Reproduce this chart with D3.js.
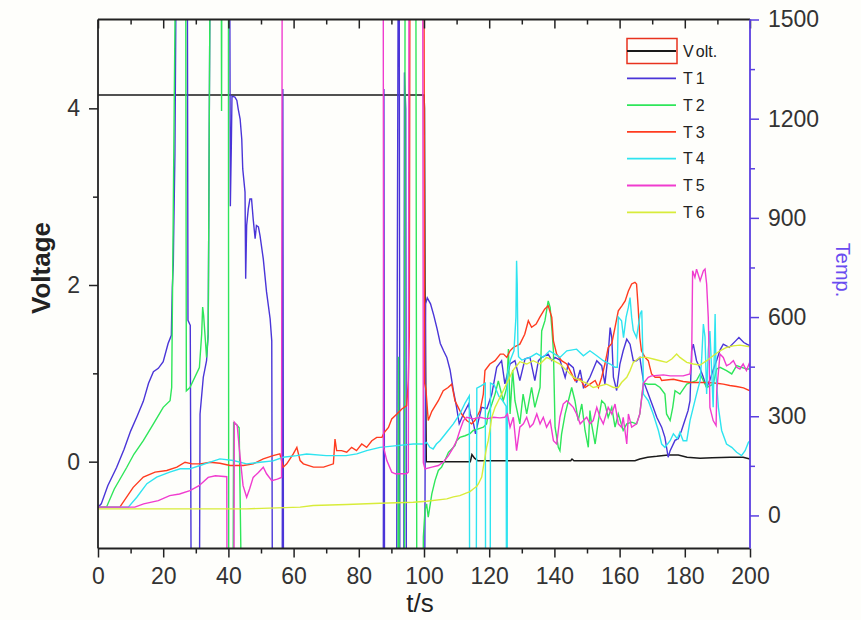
<!DOCTYPE html>
<html>
<head>
<meta charset="utf-8">
<script src="https://cdn.jsdelivr.net/npm/d3@7"></script>
<style>
  body { margin: 0; background: #fefefb; }
  svg { display: block; }
  text { font-family: "Liberation Sans", Arial, sans-serif; }
</style>
</head>
<body>
<svg id="chart" width="861" height="620"></svg>
<script>
// data: [t (s), value]
var volt = [[0,4.15],[100,4.15],[100.15,4.0],[100.3,2.0],[100.7,0],[114.2,0],[114.7,0.08],[115.5,0.04],[116.5,0.01],[145,0.01],[145.4,0.03],[146,0.01],[164.7,0.01],[166.2,0.03],[168.6,0.05],[171.4,0.06],[174.9,0.076],[178,0.076],[180.7,0.05],[184.7,0.04],[188.4,0.045],[193.9,0.05],[197.9,0.05],[200,0.03]];

var t1 = [[0,25],[1,35],[3,90],[5.7,145],[8,200],[10,255],[12,300],[13.9,345],[15.5,400],[17,435],[18.5,445],[20,465],[21.5,520],[22.5,545],[22.6,600],[22.8,690],[23.1,760],[23.2,835],[23.6,1095],[24,1700],[27.4,1700],[27.6,590],[28.3,575],[28.6,-300],[31.1,-300],[31.3,307],[32.3,418],[33.3,468],[33.8,549],[34.4,1700],[40.4,1700],[40.6,935],[40.9,1120],[41.1,1268],[42,1265],[42.6,1255],[43,1230],[43.6,1199],[44.1,1138],[44.4,1048],[45.1,978],[45.3,716],[45.6,877],[46.1,927],[46.6,957],[47.1,957],[47.6,897],[48.2,837],[48.6,877],[49.2,873],[49.7,846],[50.7,776],[51.7,676],[52.8,595],[53.3,528],[53.5,-300],[56.5,-300],[56.7,1290],[56.9,-300],[87.5,-300],[87.7,1290],[87.9,-300],[91.6,-300],[91.8,690],[92.1,1700],[92.4,1700],[92.6,-300],[93.8,-300],[94,1340],[94.4,1230],[94.6,-300],[100.2,-300],[100.5,640],[101,658],[102,640],[103,605],[104,565],[105,520],[106,498],[107,478],[108,440],[109,378],[110,327],[110.8,277],[112.1,307],[113.7,337],[114.2,307],[115.2,277],[115.8,247],[116.7,287],[117.7,327],[119.3,323],[120.8,367],[122.3,448],[123.8,468],[124.8,398],[126.4,458],[127.9,468],[129.4,408],[131,474],[132.5,478],[134,408],[135.1,468],[136.1,478],[138.1,488],[139.2,468],[140.2,478],[141.7,470],[143.3,417],[144.3,460],[145.8,447],[146.8,402],[147.9,440],[148.9,387],[149.9,400],[150.9,418],[153,468],[154.5,453],[155.5,398],[156.5,488],[157.1,568],[157.6,538],[158.1,418],[159.1,378],[160.1,458],[161.1,498],[162.2,533],[163.2,518],[164.2,468],[165.2,468],[166.2,478],[167.3,407],[168.8,367],[170.3,327],[171.4,297],[172.9,267],[173.9,236],[174.9,176],[175.5,196],[177,227],[178,232],[179,257],[180,287],[181,317],[181.6,347],[182.1,498],[182.6,518],[183.6,468],[184.6,447],[185.6,420],[186.7,387],[187.7,410],[188.7,440],[189.8,470],[190.8,500],[191.8,518],[193.6,508],[195.6,528],[196.6,538],[198.1,523],[199,518],[200,513]];

var t2 = [[0,25],[2.6,25],[5,80],[8.8,145],[11,185],[13.9,226],[17,277],[20,327],[22.1,347],[22.6,387],[23.8,1700],[26.9,1700],[27.1,377],[28.2,387],[31.1,447],[31.8,548],[32.1,630],[32.4,605],[33.3,478],[33.8,549],[34.4,1700],[37.8,1700],[37.9,1223],[38,1700],[40,1700],[40.1,-300],[41.4,-300],[41.6,280],[42.5,275],[43.3,265],[44.1,-300],[92,-300],[92.2,480],[92.4,-300],[94,-300],[94.2,1700],[97.5,1700],[97.8,-300],[99.7,-300],[99.8,-65],[100.3,15],[100.8,35],[101.3,-5],[102.4,65],[103.4,106],[104.4,136],[105.4,146],[106.4,166],[107.5,191],[108.5,201],[109.5,211],[110,226],[111,236],[112.6,241],[114.1,247],[115.1,257],[116.7,262],[118.2,267],[119.2,277],[119.7,307],[120.8,337],[121.8,367],[122.8,407],[124.3,347],[125.4,387],[125.9,503],[126.4,307],[127.2,440],[127.9,347],[129.4,277],[130.4,367],[131.5,307],[133,387],[134,327],[135.6,387],[136.1,558],[137.1,589],[138.1,649],[138.7,629],[139.2,568],[139.7,498],[140.2,267],[141.2,206],[141.7,196],[142.2,246],[143.3,307],[144.3,347],[145.3,387],[146.3,347],[147.3,287],[148.4,337],[149.4,257],[150.4,206],[150.9,317],[151.4,277],[152.5,216],[153.5,287],[154.5,347],[155.5,337],[156.5,297],[157.6,327],[158.6,267],[159.6,307],[161.1,257],[162.2,277],[163.7,282],[165.2,277],[166.2,307],[167.3,400],[168.8,397],[170.9,397],[172.4,387],[173.9,367],[174.4,307],[175.5,287],[176.3,327],[177,377],[178.5,367],[180.6,397],[183.6,408],[184.7,428],[186.7,387],[188.7,397],[189.8,443],[190.8,448],[192.8,438],[194.4,428],[195.9,453],[197.4,448],[199,443],[200,443]];

var t3 = [[0,25],[6.7,25],[10.8,85],[13.9,116],[17.5,131],[21.1,136],[24.2,146],[26.7,161],[28.8,156],[31.4,156],[34.4,161],[37.4,158],[40.5,151],[44.6,151],[47.6,156],[50.7,171],[53.7,181],[55.8,186],[56.8,146],[57.9,156],[59.9,186],[61,206],[62,166],[63,156],[66.1,146],[69.2,146],[72.2,156],[72.7,231],[73.2,196],[74.7,196],[76.3,191],[77.8,206],[79.3,196],[80.9,216],[82.4,206],[84,226],[85.5,236],[87.1,236],[87.8,251],[89.1,266],[90.1,292],[91.7,307],[93.2,322],[94.7,332],[95.2,408],[95.5,548],[95.7,1700],[100,1700],[100.2,400],[100.6,380],[101.3,287],[102.4,315],[104.4,347],[105.9,377],[107.4,387],[108.5,397],[109,372],[109.5,347],[110.5,327],[111.5,307],[113.1,287],[114.6,277],[115.6,287],[117.2,317],[118.2,367],[118.7,438],[120.2,458],[121.8,468],[123.4,488],[124.4,488],[125.4,478],[126.4,498],[127.4,508],[129.4,518],[130.9,548],[132,589],[133,569],[134.4,579],[135.5,599],[137,624],[138.1,634],[139.2,599],[139.7,528],[140.7,488],[142.2,468],[143.8,458],[145.3,428],[146.3,408],[147.9,413],[149.4,387],[150.9,397],[152.5,408],[153.5,387],[154.5,418],[155.5,458],[156.5,508],[157.6,520],[158.6,569],[159.6,619],[160.7,634],[161.7,649],[162.7,679],[163.7,700],[164.7,705],[165.2,700],[165.7,629],[166.2,538],[166.7,498],[167.8,478],[168.8,468],[169.3,448],[169.8,428],[170.9,418],[172.4,418],[172.9,408],[176.5,412],[179.5,405],[182.1,402],[184.2,402],[187.2,402],[189.8,400],[191.8,397],[193.8,393],[195.9,390],[198,386],[200,377]];

var t4 = [[0,25],[9.3,25],[11.9,55],[15,96],[18,116],[22,131],[25.2,141],[28.2,141],[31.3,151],[34.4,161],[37.4,171],[41.5,166],[45.6,156],[49.7,161],[53.7,165],[56.8,176],[60.9,181],[64,186],[70,181],[76.1,181],[79.4,186],[82.4,196],[86.5,206],[91.7,211],[96.7,216],[99.8,216],[100.8,221],[101.8,206],[102.8,201],[103.8,216],[104.9,226],[106.9,251],[109,277],[111,307],[112.6,340],[113.9,362],[114,-300],[116,-300],[116.2,385],[117.5,392],[118.8,400],[118.9,-300],[120.3,-300],[120.4,400],[121.5,395],[123,360],[124.3,345],[125.2,330],[125.3,-300],[125.5,-300],[125.6,430],[126.5,470],[127.6,498],[128.2,600],[128.4,770],[128.6,700],[128.8,520],[129,480],[130,470],[132.5,478],[134.5,490],[136.5,478],[138.5,498],[141.7,478],[143.8,498],[146.8,503],[148.9,483],[150.9,498],[153,483],[155,468],[157.1,458],[158.6,448],[159.3,448],[159.6,600],[160.6,589],[161.2,538],[162,600],[162.7,630],[163.2,659],[163.7,599],[164.2,560],[165.2,538],[166.3,609],[166.8,620],[167.2,458],[167.3,367],[168.8,347],[170.3,307],[171.9,257],[172.9,216],[173.9,206],[175.5,226],[176.5,247],[177.7,232],[178.5,251],[179.5,226],[180.6,226],[181.6,287],[182.6,327],[183.6,367],[184.7,408],[185.2,478],[185.7,579],[186.2,540],[186.7,367],[187.2,500],[187.7,558],[188.2,448],[188.7,327],[189.3,609],[189.6,420],[190.3,327],[191.3,257],[192.8,216],[194.4,206],[195.9,191],[197.4,181],[198.5,196],[199.5,221],[200,226]];

var t5 = [[0,25],[11.3,25],[14,35],[18.5,45],[22,60],[25,65],[28.2,75],[31,90],[33.8,115],[36,120],[39.5,117],[39.6,-300],[41.7,-300],[41.8,282],[42.7,272],[43.6,176],[44.5,90],[45.6,55],[46.5,80],[47.6,115],[49.2,130],[50.7,146],[51.7,126],[53.3,105],[55,110],[56.3,115],[56.5,1700],[87.5,1700],[87.6,206],[88.6,166],[90.1,131],[91.2,126],[94.6,126],[95.2,131],[95.4,1700],[99.6,1700],[99.8,160],[100.3,141],[102.4,146],[104.4,151],[105.9,161],[107.5,181],[109,206],[110,226],[111,257],[112.1,287],[113.1,297],[115.1,292],[117.2,297],[119.2,292],[121.3,297],[123.3,295],[124.8,297],[125.6,307],[126.4,267],[127.4,297],[128.4,196],[129.4,267],[130.5,277],[131.5,297],[132.5,267],[133.5,277],[134.6,307],[135.6,277],[136.6,297],[137.6,267],[138.7,287],[139.7,226],[140.7,216],[141.7,297],[142.7,337],[143.8,347],[144.8,337],[145.8,327],[146.8,307],[147.9,277],[148.9,287],[149.9,297],[150.9,277],[151.9,287],[153,327],[154,297],[155,277],[156.5,327],[157.6,307],[158.6,337],[159.6,277],[160.6,267],[161.1,297],[162.2,216],[162.7,307],[163.7,267],[165.2,277],[166.2,307],[167.3,400],[168.8,418],[169.8,422],[173.4,425],[175.5,422],[177.5,422],[179.5,422],[181.6,428],[182.1,468],[182.4,740],[183.1,720],[183.6,745],[184.7,710],[185.7,740],[186.2,745],[186.7,700],[187.2,599],[187.5,468],[187.7,327],[188.7,287],[189.6,272],[189.8,377],[190.8,488],[191.8,478],[192.8,453],[193.8,458],[194.9,468],[195.9,448],[196.9,443],[197.9,458],[198.9,438],[199.7,458],[200,450]];

var t6 = [[0,20],[45.6,20],[62,25],[66,30],[76.3,33],[86.5,37],[96.7,40],[100.8,43],[107,50],[109,56],[111,60],[113.1,68],[114.1,72],[115.1,80],[116.2,88],[116.7,96],[117.7,116],[118.2,146],[118.7,176],[119.2,206],[119.7,226],[120.2,257],[120.8,297],[121.8,327],[122.8,347],[124.3,377],[125.4,400],[125.9,410],[127.4,440],[129.4,465],[131.5,458],[133.5,468],[135.6,458],[137.6,478],[139.7,468],[141.7,458],[143.8,438],[145.8,418],[147.9,408],[149.9,400],[151.9,387],[154,392],[156,397],[158.1,387],[159.6,387],[160.6,402],[162.2,418],[163.2,438],[164.2,463],[166.2,478],[168.3,478],[170.3,473],[172.4,468],[174.4,463],[176,473],[177.5,488],[178.5,478],[180.6,463],[182.6,458],[184.7,455],[186.7,468],[188.7,483],[190.8,498],[192.8,508],[194.8,513],[196.9,515],[199.5,511],[200,511]];

var seriesNames = ["T1", "T2", "T3", "T4", "T5", "T6"];
var seriesData = [t1, t2, t3, t4, t5, t6];
var seriesColors = ["#4a35d8", "#2ee65a", "#ff3b1f", "#2ee4f0", "#f03ccf", "#d8ec3a"];

var xTicks = [0, 20, 40, 60, 80, 100, 120, 140, 160, 180, 200];
var voltTicks = [0, 2, 4];
var tempTicks = [0, 300, 600, 900, 1200, 1500];

var svg = d3.select("svg#chart"),
    margin = {top: 19.5, right: 111, bottom: 71.5, left: 98};
var width = +svg.attr("width") - margin.left - margin.right,
    height = +svg.attr("height") - margin.top - margin.bottom;

var x = d3.scaleLinear().domain([0, 200]).range([0, width]);
var yV = d3.scaleLinear().domain([-1, 5]).range([height + 1.5, 0.5]);
var yT = d3.scaleLinear().domain([-100, 1500]).range([height, 0]);

var axisColor = "#222", tempColor = "#5a3fe0";
var intFormat = d3.format("d");

var g = svg.append("g").attr("transform", "translate(" + margin.left + "," + margin.top + ")");

g.append("clipPath").attr("id", "plotclip")
  .append("rect").attr("width", width).attr("height", height);

var plot = g.append("g").attr("clip-path", "url(#plotclip)");

var lineV = d3.line().x(function(d) { return x(d[0]); }).y(function(d) { return yV(d[1]); });
var lineT = d3.line().x(function(d) { return x(d[0]); }).y(function(d) { return yT(d[1]); });

plot.append("path")
    .datum(volt)
    .attr("fill", "none")
    .attr("stroke", "#1a1a1a")
    .attr("stroke-width", 1.5)
    .attr("d", lineV);

plot.selectAll("path.temp")
  .data(seriesData)
  .enter().append("path")
    .attr("class", "temp")
    .attr("fill", "none")
    .attr("stroke", function(d, i) { return seriesColors[i]; })
    .attr("stroke-width", 1.4)
    .attr("d", lineT);

// axes
function styleAxis(sel, color, labelled) {
  sel.select(".domain").remove();
  sel.selectAll(".tick line").attr("stroke", color).attr("stroke-width", 1.5);
  sel.selectAll(".tick text")
    .attr("fill", "#333")
    .attr("font-size", labelled ? 23 : 0)
    .attr("font-family", "'Liberation Sans', Arial, sans-serif");
}

var minorX = d3.range(10, 200, 20);

g.append("g").attr("transform", "translate(0," + height + ")")
  .call(d3.axisBottom(x).tickValues(xTicks).tickFormat(intFormat).tickSize(9).tickSizeOuter(0).tickPadding(10))
  .call(styleAxis, axisColor, true);
g.append("g").attr("transform", "translate(0," + height + ")")
  .call(d3.axisBottom(x).tickValues(minorX).tickSize(5).tickFormat(""))
  .call(styleAxis, axisColor, false);

g.append("g")
  .call(d3.axisBottom(x).tickValues(xTicks).tickSize(9).tickFormat(""))
  .call(styleAxis, axisColor, false);
g.append("g")
  .call(d3.axisBottom(x).tickValues(minorX).tickSize(5).tickFormat(""))
  .call(styleAxis, axisColor, false);

g.append("g")
  .call(d3.axisLeft(yV).tickValues(voltTicks).tickFormat(intFormat).tickSize(9).tickPadding(9))
  .call(styleAxis, axisColor, true);
g.append("g")
  .call(d3.axisLeft(yV).tickValues([1, 3]).tickSize(5).tickFormat(""))
  .call(styleAxis, axisColor, false);

g.append("g").attr("transform", "translate(" + width + ",0)")
  .call(d3.axisRight(yT).tickValues(tempTicks).tickFormat(intFormat).tickSize(9).tickPadding(9))
  .call(styleAxis, tempColor, true);
g.append("g").attr("transform", "translate(" + width + ",0)")
  .call(d3.axisRight(yT).tickValues(d3.range(150, 1500, 300)).tickSize(5).tickFormat(""))
  .call(styleAxis, tempColor, false);

// frame
g.append("line").attr("x1", 0).attr("x2", width).attr("y1", 0).attr("y2", 0)
  .attr("stroke", axisColor).attr("stroke-width", 1.8);
g.append("line").attr("x1", 0).attr("x2", width).attr("y1", height).attr("y2", height)
  .attr("stroke", axisColor).attr("stroke-width", 1.8);
g.append("line").attr("x1", 0).attr("x2", 0).attr("y1", 0).attr("y2", height)
  .attr("stroke", axisColor).attr("stroke-width", 1.8);
g.append("line").attr("x1", width).attr("x2", width).attr("y1", 0).attr("y2", height)
  .attr("stroke", tempColor).attr("stroke-width", 1.8);

// axis titles
svg.append("text")
  .attr("transform", "translate(50,268) rotate(-90)")
  .attr("text-anchor", "middle")
  .attr("font-size", 26)
  .attr("font-weight", "bold")
  .attr("fill", "#222")
  .text("Voltage");

svg.append("text")
  .attr("x", margin.left + width / 2 - 4)
  .attr("y", 612)
  .attr("text-anchor", "middle")
  .attr("font-size", 26)
  .attr("fill", "#222")
  .text("t/s");

svg.append("text")
  .attr("transform", "translate(836,270) rotate(90)")
  .attr("text-anchor", "middle")
  .attr("font-size", 20)
  .attr("fill", "#6a4cf0")
  .text("Temp.");

// legend
var legendNames = ["Volt."].concat(seriesNames);
var legendColors = ["#1a1a1a"].concat(seriesColors);

var legend = svg.append("g")
    .attr("transform", "translate(627,51)")
  .selectAll("g")
  .data(legendNames)
  .enter().append("g")
    .attr("transform", function(d, i) { return "translate(0," + (i === 0 ? 0 : 0.5 + i * 26.8) + ")"; });

legend.filter(function(d, i) { return i === 0; })
  .append("rect")
    .attr("x", 0).attr("y", -12.5)
    .attr("width", 50).attr("height", 25)
    .attr("fill", "none")
    .attr("stroke", "#e8321e")
    .attr("stroke-width", 1.5);

legend.append("line")
    .attr("x1", 0).attr("x2", 49)
    .attr("stroke", function(d, i) { return legendColors[i]; })
    .attr("stroke-width", 1.8);

legend.append("text")
    .attr("x", 56)
    .attr("dy", "0.36em")
    .attr("font-size", 16)
    .attr("fill", "#222")
    .text(function(d) { return d.charAt(0); })
  .append("tspan")
    .attr("dx", 3)
    .text(function(d) { return d.slice(1); });
</script>
</body>
</html>
